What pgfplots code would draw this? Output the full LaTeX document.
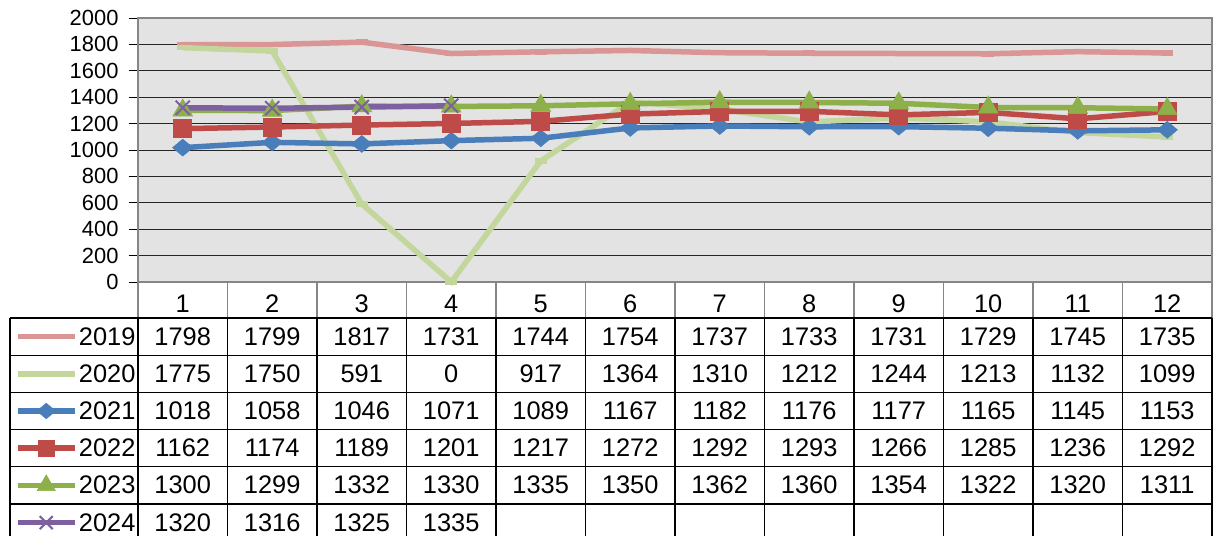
\documentclass[border=0pt]{standalone}
\usepackage{fontspec}
\setmainfont{Liberation Sans}
\usepackage{pgfplots}
\pgfplotsset{compat=1.18}
\definecolor{c19}{HTML}{D99694}
\definecolor{c20}{HTML}{C3D69B}
\definecolor{c21}{HTML}{4A7EBB}
\definecolor{c22}{HTML}{BE4B48}
\definecolor{c23}{HTML}{8DB04A}
\definecolor{c24}{HTML}{7D60A0}
\definecolor{bggray}{HTML}{E3E3E3}
\definecolor{framegray}{HTML}{868686}
\begin{document}
\begin{tikzpicture}
\path[use as bounding box] (-138bp,-254bp) rectangle (1075bp,282bp);
\begin{axis}[
  scale only axis, width=1074bp, height=264bp,
  xmin=0.5, xmax=12.5, ymin=0, ymax=2000,
  clip=false,
  axis background/.style={fill=bggray},
  axis line style={draw=framegray, line width=1.8bp},
  ytick={0,200,...,2000},
  xtick={1,...,12}, xticklabels={1,2,3,4,5,6,7,8,9,10,11,12},
  ymajorgrids, major grid style={black!85, line width=1bp},
  tick align=outside, major tick length=9bp, ytick pos=left,
  ytick style={black, line width=1bp},
  xtick style={draw=none},
  yticklabel style={font=\fontsize{22}{26}\selectfont, xshift=-7bp},
  xticklabel style={font=\fontsize{25.5}{30}\selectfont, anchor=center, yshift=-13bp},
  /pgf/number format/assume math mode=true,
  /pgf/number format/1000 sep={},
  legend style={at={(axis description cs:-0.11453,-0.13636)}, anchor=north west,
    draw=none, fill=none, inner sep=0pt, outer sep=0pt, row sep=0pt,
    font=\fontsize{25.5}{30}\selectfont,
    nodes={inner sep=0pt, text height=27bp, text depth=10.2bp},
    /tikz/every odd column/.style={column sep=1.5bp}},
  legend image code/.code={\draw[#1, mark repeat=2, mark phase=2, every mark/.append style={scale=0.92}] plot coordinates {(0bp,0bp) (28.5bp,0bp) (57bp,0bp)};},
]
\addplot[c19, line width=5.5bp, mark=-, mark size=6bp] coordinates {(1,1798)(2,1799)(3,1817)(4,1731)(5,1744)(6,1754)(7,1737)(8,1733)(9,1731)(10,1729)(11,1745)(12,1735)};
\addlegendentry{2019}
\addplot[c20, line width=5.5bp, mark=-, mark size=6bp] coordinates {(1,1775)(2,1750)(3,591)(4,0)(5,917)(6,1364)(7,1310)(8,1212)(9,1244)(10,1213)(11,1132)(12,1099)};
\addlegendentry{2020}
\addplot[c21, line width=5.5bp, mark=diamond*, mark size=8.5bp, mark options={xscale=1.6, line width=0.5bp, fill=c21}] coordinates {(1,1018)(2,1058)(3,1046)(4,1071)(5,1089)(6,1167)(7,1182)(8,1176)(9,1177)(10,1165)(11,1145)(12,1153)};
\addlegendentry{2021}
\addplot[c22, line width=5.5bp, mark=square*, mark size=9bp, mark options={line width=0.5bp, fill=c22}] coordinates {(1,1162)(2,1174)(3,1189)(4,1201)(5,1217)(6,1272)(7,1292)(8,1293)(9,1266)(10,1285)(11,1236)(12,1292)};
\addlegendentry{2022}
\addplot[c23, line width=5.5bp, mark=triangle*, mark size=11.5bp, mark options={line width=0.5bp, fill=c23}] coordinates {(1,1300)(2,1299)(3,1332)(4,1330)(5,1335)(6,1350)(7,1362)(8,1360)(9,1354)(10,1322)(11,1320)(12,1311)};
\addlegendentry{2023}
\addplot[c24, line width=5.5bp, mark=x, mark size=10bp, mark options={line width=2bp}] coordinates {(1,1320)(2,1316)(3,1325)(4,1335)};
\addlegendentry{2024}
\end{axis}
\begin{scope}[x=1bp,y=1bp]
  \foreach \i in {0,...,12} \draw[framegray, line width=1.5bp] ({89.5*\i},0) -- ({89.5*\i},-36);
  \foreach \i in {0,...,12} \draw[black, line width=1.5bp] ({89.5*\i},-36) -- ({89.5*\i},-260);
  \draw[black, line width=1.5bp] (-128,-36) -- (-128,-260);
  \foreach \y in {-36,-73.2,-110.4,-147.6,-184.8,-222} \draw[black, line width=1.2bp] (-128,\y) -- (1074,\y);
  \foreach \r/\vals in {0/{1798,1799,1817,1731,1744,1754,1737,1733,1731,1729,1745,1735},
                        1/{1775,1750,591,0,917,1364,1310,1212,1244,1213,1132,1099},
                        2/{1018,1058,1046,1071,1089,1167,1182,1176,1177,1165,1145,1153},
                        3/{1162,1174,1189,1201,1217,1272,1292,1293,1266,1285,1236,1292},
                        4/{1300,1299,1332,1330,1335,1350,1362,1360,1354,1322,1320,1311},
                        5/{1320,1316,1325,1335}}{
    \foreach \v [count=\c] in \vals
      \node[anchor=base, inner sep=0pt, font=\fontsize{25.5}{30}\selectfont] at ({89.5*(\c-0.5)},{-63-37.2*\r}) {\v};
  }
\end{scope}
\end{tikzpicture}
\end{document}
